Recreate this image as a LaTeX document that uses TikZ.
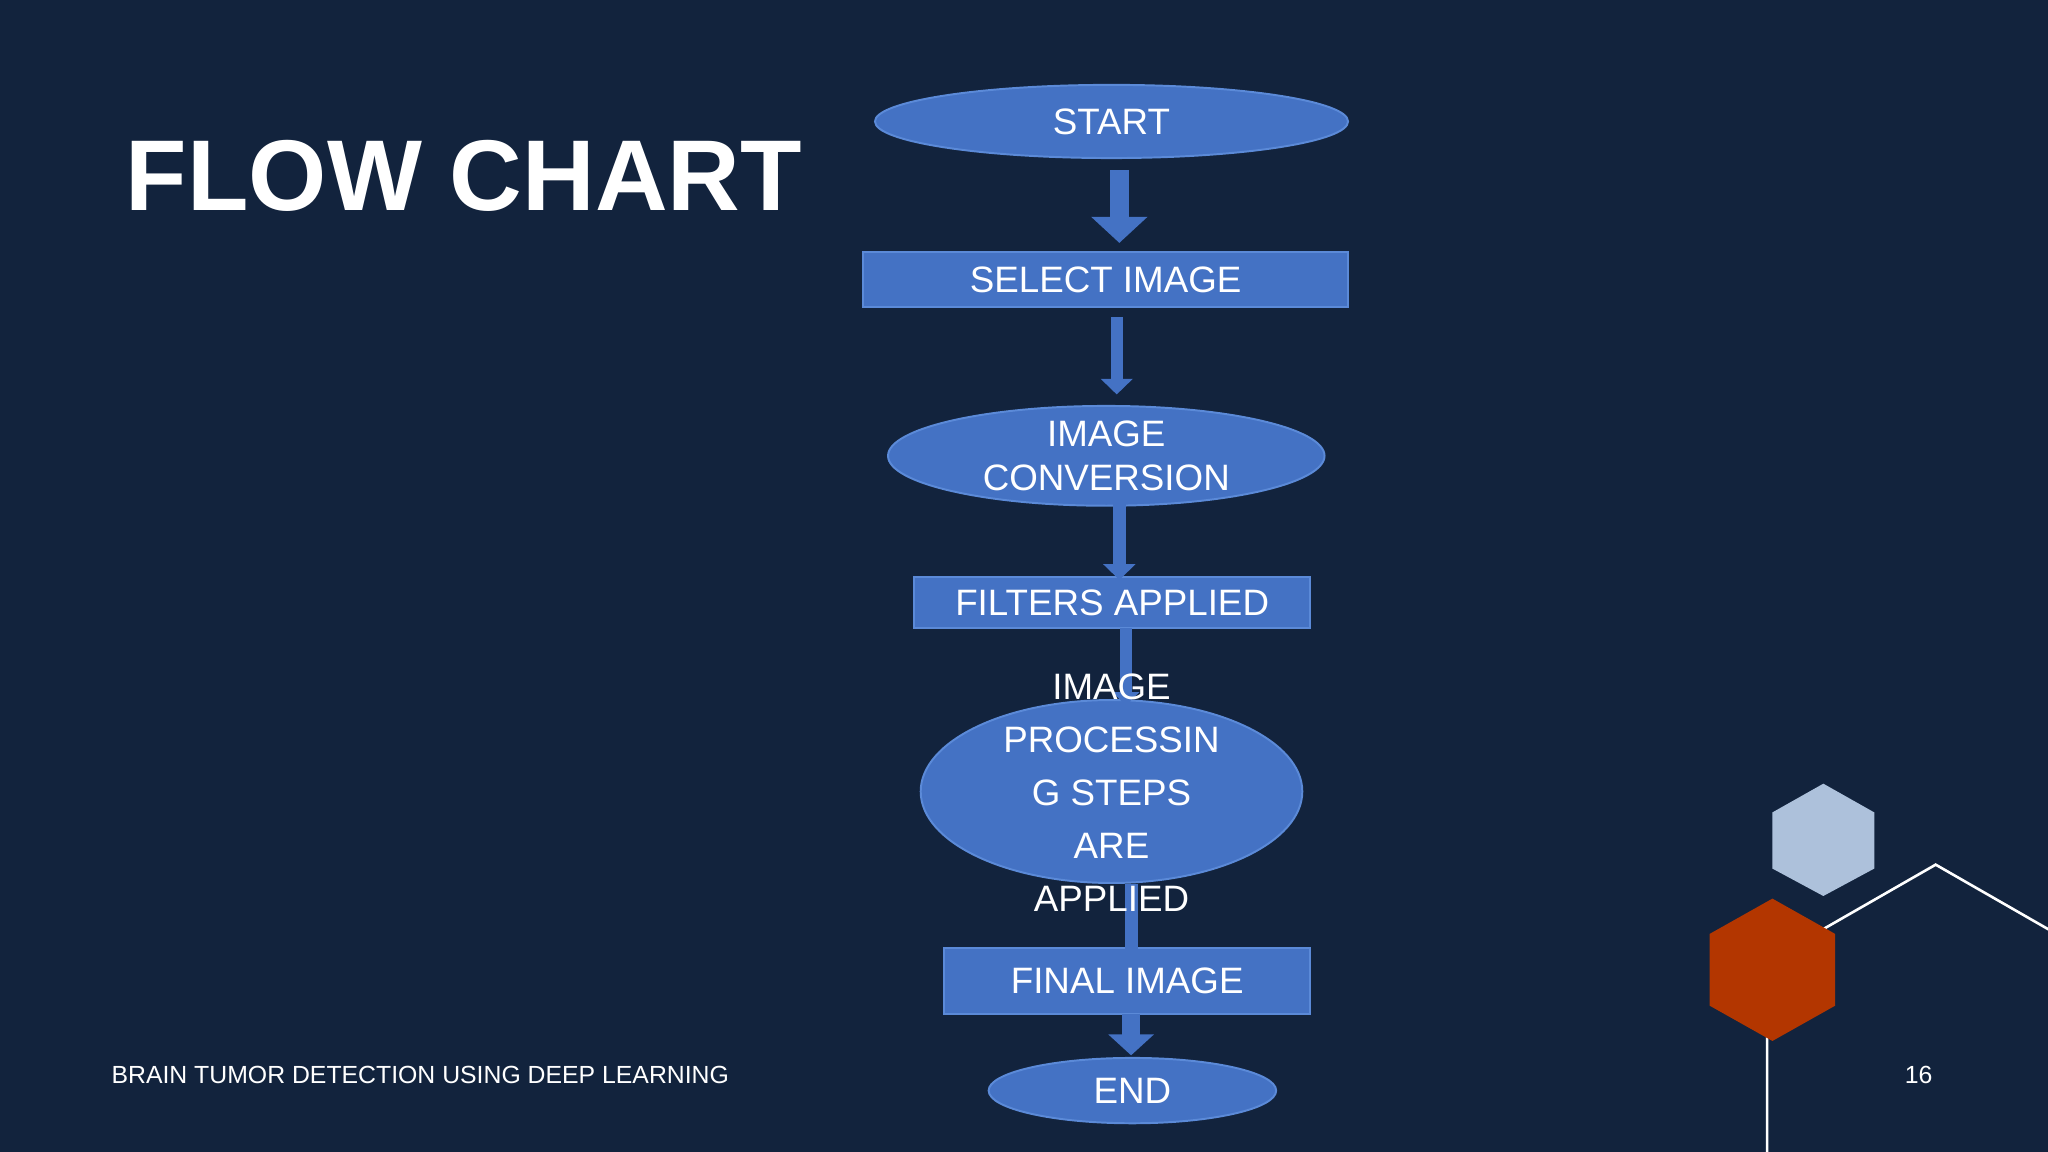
\documentclass[tikz,border=0pt]{standalone}
\usepackage{fontspec}
\setmainfont{Liberation Sans}
\usetikzlibrary{shapes.geometric,arrows.meta}
\definecolor{bg}{HTML}{12233D}
\definecolor{boxc}{HTML}{4472C4}
\definecolor{boxe}{HTML}{5B8AD8}
\definecolor{hexl}{HTML}{ADC1DB}
\definecolor{hexr}{HTML}{B33600}
\tikzset{
  box/.style={draw=boxe,fill=boxc,line width=0.015cm,text=white,font=\fontsize{8}{10}\selectfont,inner sep=0pt},
  rbox/.style={box,rectangle},
  ebox/.style={box,ellipse},
  arr/.style={draw=boxc,line width=#1},
}
\begin{document}
\begin{tikzpicture}[x=0.01cm,y=-0.01cm]
\fill[bg] (0,0) rectangle (1568,882);
\useasboundingbox (0,0) rectangle (1568,882);
\node[anchor=west,text=white,font=\fontsize{21.9}{24}\selectfont\bfseries] (title) at (84,135) {FLOW CHART};
\node[anchor=west,text=white,font=\fontsize{5.4}{7}\selectfont] (foot) at (73,823) {BRAIN TUMOR DETECTION USING DEEP LEARNING};
\node[text=white,font=\fontsize{5.4}{7}\selectfont] (pg) at (1469,823) {16};
% nodes
\node[ebox,minimum width=3.62cm,minimum height=0.56cm] (start) at (851,93) {START};
\node[rbox,minimum width=3.71cm,minimum height=0.42cm] (sel) at (846.5,214) {SELECT IMAGE};
\node[ebox,minimum width=3.34cm,minimum height=0.76cm,align=center] (conv) at (847,349) {IMAGE\\[-0.3pt]CONVERSION};
\node[rbox,minimum width=3.03cm,minimum height=0.39cm] (filt) at (851.5,461.5) {FILTERS APPLIED};
\node[ebox,minimum width=2.92cm,minimum height=1.4cm] (proc) at (851,606) {};
\node[rbox,minimum width=2.8cm,minimum height=0.5cm] (fin) at (863,751) {FINAL IMAGE};
\node[ebox,minimum width=2.2cm,minimum height=0.5cm] (endn) at (867,835) {END};
% arrows
\coordinate (a1s) at (857,130); \coordinate (a1e) at (857,186);
\coordinate (a2s) at (855,243); \coordinate (a2e) at (855,302);
\coordinate (a3s) at (857,386); \coordinate (a3e) at (857,444);
\coordinate (a4s) at (862,481); \coordinate (a4e) at (862,540);
\coordinate (a5s) at (866,677); \coordinate (a5e) at (866,738);
\coordinate (a6s) at (866,776); \coordinate (a6e) at (866,808);
\draw[arr=0.15cm,-{Triangle[width=0.42cm,length=0.2cm]}] (a1s) -- (a1e);
\draw[arr=0.09cm,-{Triangle[width=0.24cm,length=0.12cm]}] (a2s) -- (a2e);
\draw[arr=0.1cm,-{Triangle[width=0.24cm,length=0.12cm]}] (a3s) -- (a3e);
\draw[arr=0.09cm,-{Triangle[width=0.2cm,length=0.1cm]}] (a4s) -- (a4e);
\draw[arr=0.1cm,-{Triangle[width=0.22cm,length=0.1cm]}] (a5s) -- (a5e);
\draw[arr=0.14cm,-{Triangle[width=0.34cm,length=0.16cm]}] (a6s) -- (a6e);
\node[text=white,font=\fontsize{8}{10}\selectfont,align=center] (proct) at (851,607) {IMAGE\\[1.5pt]PROCESSIN\\[1.5pt]G STEPS\\[1.5pt]ARE\\[1.5pt]APPLIED};
% decoration
\draw[white,line width=0.02cm] (1353,890) -- (1353,736) -- (1482,662) -- (1611,736);
\fill[hexl] (1396,600) -- (1435,622) -- (1435,665) -- (1396,686) -- (1357,665) -- (1357,622) -- cycle;
\fill[hexr] (1357,688) -- (1405,715) -- (1405,770) -- (1357,797) -- (1309,770) -- (1309,715) -- cycle;
\end{tikzpicture}
\end{document}
